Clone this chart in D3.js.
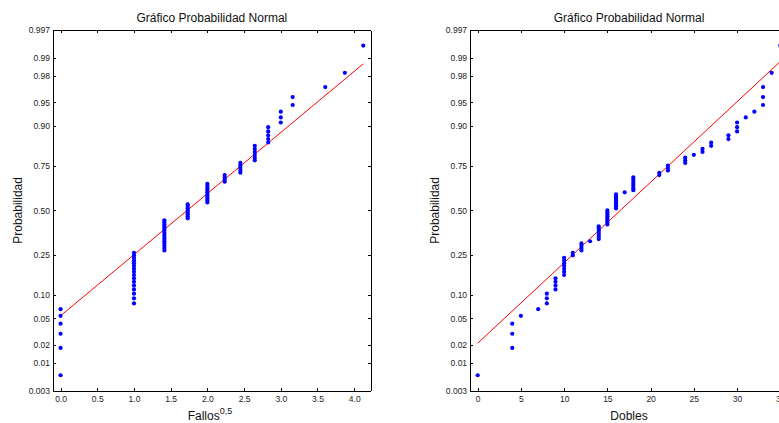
<!DOCTYPE html>
<html>
<head>
<meta charset="utf-8">
<script src="https://d3js.org/d3.v7.min.js"></script>
<style>
body { margin: 0; background: #fff; }
svg { display: block; font-family: "Liberation Sans", Arial, sans-serif; }
.axis path, .axis line { stroke: #000; stroke-width: 1; shape-rendering: crispEdges; }
.axis text { fill: #222; font-size: 8.5px; font-family: "Liberation Sans", Arial, sans-serif; }
.title, .label { fill: #111; font-size: 12px; }
</style>
</head>
<body>
<script>
(function(){

//raw sample: distinct values and how many times each one appears (83 players)
var fallosValues = [0, 1, 2, 3, 4, 5, 6, 7, 8, 9, 10, 13, 15, 17]; //plotted as Fallos^0.5
var fallosCounts = [6, 16, 15, 8, 10, 4, 5, 6, 5, 3, 2, 1, 1, 1];

var doblesValues = [0, 4, 5, 7, 8, 9, 10, 11, 12, 13, 14, 15, 16, 17, 18,
                    21, 22, 24, 25, 26, 27, 29, 30, 31, 32, 33, 34, 35];
var doblesCounts = [1, 3, 1, 1, 3, 4, 7, 2, 4, 1, 7, 8, 8, 1, 7,
                    2, 3, 3, 1, 2, 2, 2, 3, 1, 1, 3, 1, 1];

//probability axis ticks
var probTicks = [0.003, 0.01, 0.02, 0.05, 0.10, 0.25, 0.50, 0.75, 0.90, 0.95, 0.98, 0.99, 0.997];
var probLabels = ["0.003", "0.01", "0.02", "0.05", "0.10", "0.25", "0.50",
                  "0.75", "0.90", "0.95", "0.98", "0.99", "0.997"];

var fallosTicks = [0, 0.5, 1, 1.5, 2, 2.5, 3, 3.5, 4];
var doblesTicks = [0, 5, 10, 15, 20, 25, 30, 35];

var chartTitle = "Gráfico Probabilidad Normal";
var yTitle = "Probabilidad";

//frame
var width = 779, height = 423;
var axTop = 30, axBottom = 390.8, axWidth = 317.8;

var svg = d3.select("body")
    .append("svg")
    .attr("width", width)
    .attr("height", height);

//inverse normal cdf (Acklam approximation)
function probit(p){
    var a = [-3.969683028665376e+01, 2.209460984245205e+02, -2.759285104469687e+02,
             1.383577518672690e+02, -3.066479806614716e+01, 2.506628277459239e+00];
    var b = [-5.447609879822406e+01, 1.615858368580409e+02, -1.556989798598866e+02,
             6.680131188771972e+01, -1.328068155288572e+01];
    var c = [-7.784894002430293e-03, -3.223964580411365e-01, -2.400758277161838e+00,
             -2.549732539343734e+00, 4.374664141464968e+00, 2.938163982698783e+00];
    var d = [7.784695709041462e-03, 3.224671290700398e-01, 2.445134137142996e+00,
             3.754408661907416e+00];
    var pl = 0.02425, q, r;
    if (p < pl){
        q = Math.sqrt(-2 * Math.log(p));
        return (((((c[0]*q+c[1])*q+c[2])*q+c[3])*q+c[4])*q+c[5]) /
               ((((d[0]*q+d[1])*q+d[2])*q+d[3])*q+1);
    } else if (p > 1 - pl){
        q = Math.sqrt(-2 * Math.log(1 - p));
        return -(((((c[0]*q+c[1])*q+c[2])*q+c[3])*q+c[4])*q+c[5]) /
                ((((d[0]*q+d[1])*q+d[2])*q+d[3])*q+1);
    }
    q = p - 0.5; r = q * q;
    return (((((a[0]*r+a[1])*r+a[2])*r+a[3])*r+a[4])*r+a[5])*q /
           (((((b[0]*r+b[1])*r+b[2])*r+b[3])*r+b[4])*r+1);
};

//expand value/count pairs into a sorted sample
function expand(values, counts, fn){
    var out = [];
    values.forEach(function(v, i){
        for (var k=0; k<counts[i]; k++) out.push(fn ? fn(v) : v);
    });
    return out.sort(d3.ascending);
};

//percentile the way matlab does it: position n*p+0.5
function prctile(sorted, p){
    var n = sorted.length, pos = n * p + 0.5;
    if (pos <= 1) return sorted[0];
    if (pos >= n) return sorted[n-1];
    var lo = Math.floor(pos), f = pos - lo;
    return sorted[lo-1] + f * (sorted[lo] - sorted[lo-1]);
};

function drawPanel(x0, sample, xTicks, xLabel, xSup){
    var n = sample.length;
    var lo = sample[0], hi = sample[n-1], rng = hi - lo;

    var x = d3.scaleLinear()
        .domain([lo - 0.025*rng, hi + 0.025*rng])
        .range([x0, x0 + axWidth]);

    var y = d3.scaleLinear()
        .domain([probit(0.003), probit(0.997)])
        .range([axBottom, axTop]);

    var g = svg.append("g");

    //white plot area
    g.append("rect")
        .attr("x", x0).attr("y", axTop)
        .attr("width", axWidth).attr("height", axBottom - axTop)
        .attr("fill", "#fff");

    //reference line through the quartiles, from min to max
    var q1 = prctile(sample, 0.25), q3 = prctile(sample, 0.75);
    var z1 = probit(0.25), z3 = probit(0.75);
    var slope = (z3 - z1) / (q3 - q1);
    var lineData = [lo, hi].map(function(v){ return [v, z1 + slope * (v - q1)]; });

    g.append("line")
        .attr("x1", x(lineData[0][0])).attr("y1", y(lineData[0][1]))
        .attr("x2", x(lineData[1][0])).attr("y2", y(lineData[1][1]))
        .attr("stroke", "#ff0000")
        .attr("stroke-width", 1);

    //sample points at plotting positions (i-0.5)/n
    g.selectAll(".pt")
        .data(sample)
        .enter()
        .append("circle")
        .attr("class", "pt")
        .attr("cx", function(d){ return x(d); })
        .attr("cy", function(d, i){ return y(probit((i + 0.5) / n)); })
        .attr("r", 2.1)
        .attr("fill", "#0000ff");

    var yTickVals = probTicks.map(probit);

    //axes, ticks pointing inside
    g.append("g")
        .attr("class", "axis")
        .attr("transform", "translate(0," + axBottom + ")")
        .call(d3.axisBottom(x).tickValues(xTicks).tickSizeInner(-3).tickSizeOuter(0).tickPadding(5));

    g.append("g")
        .attr("class", "axis")
        .attr("transform", "translate(0," + axTop + ")")
        .call(d3.axisTop(x).tickValues(xTicks).tickSizeInner(-3).tickSizeOuter(0).tickFormat(""));

    g.append("g")
        .attr("class", "axis")
        .attr("transform", "translate(" + x0 + ",0)")
        .call(d3.axisLeft(y).tickValues(yTickVals).tickSizeInner(-3).tickSizeOuter(0).tickPadding(3)
            .tickFormat(function(d, i){ return probLabels[i]; }));

    g.append("g")
        .attr("class", "axis")
        .attr("transform", "translate(" + (x0 + axWidth) + ",0)")
        .call(d3.axisRight(y).tickValues(yTickVals).tickSizeInner(-3).tickSizeOuter(0).tickFormat(""));

    var cx = x0 + axWidth / 2;

    //title
    g.append("text")
        .attr("class", "title")
        .attr("x", cx).attr("y", 21.5)
        .attr("text-anchor", "middle")
        .text(chartTitle);

    //x label
    var xl = g.append("text")
        .attr("class", "label")
        .attr("x", cx - (xSup ? 2 : 0)).attr("y", 420)
        .attr("text-anchor", "middle")
        .text(xLabel);
    if (xSup){
        xl.append("tspan")
            .attr("dy", -6)
            .style("font-size", "9px")
            .text(xSup);
    };

    //y label
    g.append("text")
        .attr("class", "label")
        .attr("transform", "translate(" + (x0 - 31.5) + "," + ((axTop + axBottom) / 2) + ") rotate(-90)")
        .attr("text-anchor", "middle")
        .text(yTitle);
};

drawPanel(53, expand(fallosValues, fallosCounts, Math.sqrt), fallosTicks, "Fallos", "0,5");
drawPanel(470.1, expand(doblesValues, doblesCounts), doblesTicks, "Dobles", null);

})();
</script>
</body>
</html>
